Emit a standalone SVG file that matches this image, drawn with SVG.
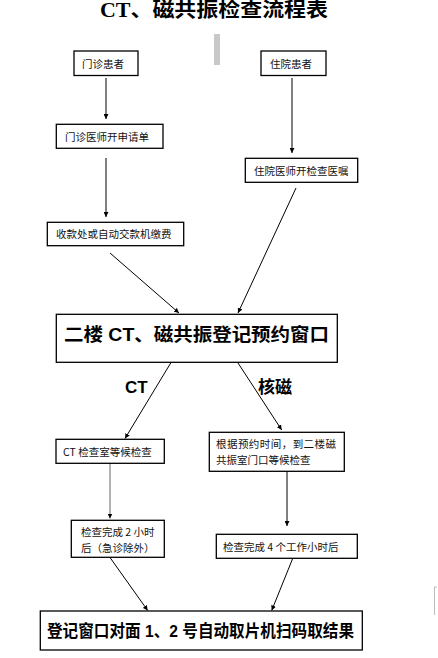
<svg xmlns="http://www.w3.org/2000/svg" width="438" height="658" viewBox="0 0 438 658">
<style>
.box{fill:#fff;stroke:#000;stroke-width:1.3}
.s{font-family:"Noto Sans CJK SC","DejaVu Sans",sans-serif;font-size:10.5px;fill:#111}
.b{font-family:"Liberation Sans","Noto Sans CJK SC",sans-serif;font-weight:bold;fill:#000}
.ln{stroke:#000;stroke-width:1;fill:none;marker-end:url(#ah)}
</style>
<defs>
<marker id="ah" viewBox="0 0 10 10" refX="10" refY="5" markerWidth="5" markerHeight="5" markerUnits="userSpaceOnUse" orient="auto">
<path d="M0,0 L10,5 L0,10 z" fill="#000"/>
</marker>
<marker id="ahg" viewBox="0 0 10 10" refX="10" refY="5" markerWidth="5" markerHeight="5" markerUnits="userSpaceOnUse" orient="auto">
<path d="M0,0 L10,5 L0,10 z" fill="#000"/>
</marker>
</defs>
<rect width="438" height="658" fill="#fff"/>
<text x="100" y="17" font-family="Liberation Serif,'Noto Sans CJK SC',serif" font-weight="bold" font-size="20" textLength="228" lengthAdjust="spacingAndGlyphs">CT、磁共振检查流程表</text>
<rect x="214" y="34" width="6" height="31" fill="#c8c8c8"/>
<path d="M437,587 L434.5,587 L434.5,615" stroke="#bbb" stroke-width="1" fill="none"/>

<g id="connectors">
<line class="ln" x1="106" y1="78" x2="106" y2="119"/>
<line class="ln" x1="106" y1="158" x2="106" y2="217"/>
<line class="ln" x1="292" y1="78" x2="292" y2="153"/>
<line class="ln" x1="110" y1="253" x2="179" y2="313"/>
<line class="ln" x1="296" y1="188" x2="238" y2="313"/>
<line class="ln" x1="171" y1="362.5" x2="125" y2="438.5"/>
<line class="ln" x1="237.7" y1="362.5" x2="281.7" y2="430"/>
<line class="ln" x1="110" y1="463.5" x2="110" y2="518.5" style="stroke:#666"/>
<line class="ln" x1="287" y1="471.5" x2="287" y2="526"/>
<line class="ln" x1="110" y1="557.5" x2="147.7" y2="610.5"/>
<line class="ln" x1="292.7" y1="558.5" x2="271.7" y2="610.5"/>
</g>

<g id="n1"><rect class="box" x="74" y="51" width="64" height="24.5"/><text class="s" x="82" y="68">门诊患者</text></g>
<g id="n2"><rect class="box" x="261" y="51" width="65" height="24.5"/><text class="s" x="270" y="68">住院患者</text></g>
<g id="n3"><rect class="box" x="56.3" y="124.3" width="106.7" height="24"/><text class="s" x="65" y="141">门诊医师开申请单</text></g>
<g id="n4"><rect class="box" x="245.3" y="158.3" width="112.4" height="24"/><text class="s" x="254" y="175">住院医师开检查医嘱</text></g>
<g id="n5"><rect class="box" x="47.3" y="222.3" width="136.4" height="23.4"/><text class="s" x="56" y="238">收款处或自动交款机缴费</text></g>
<g id="n6"><rect class="box" x="56.3" y="314.3" width="281" height="48"/><text class="b" x="64" y="341" font-size="18" textLength="265" lengthAdjust="spacingAndGlyphs">二楼 CT、磁共振登记预约窗口</text></g>
<text class="b" x="125" y="393" font-size="17">CT</text>
<text class="b" x="258" y="393" font-size="17">核磁</text>
<g id="n7"><rect class="box" x="56" y="439.3" width="108.3" height="24"/><text class="s" x="63" y="456">CT 检查室等候检查</text></g>
<g id="n8"><rect class="box" x="209.3" y="432.3" width="135" height="39"/><text class="s" x="216" y="448" textLength="120" lengthAdjust="spacing">根据预约时间，到二楼磁</text><text class="s" x="216" y="464">共振室门口等候检查</text></g>
<g id="n9"><rect class="box" x="71.3" y="520.3" width="93" height="37"/><text class="s" x="81" y="536">检查完成 2 小时</text><text class="s" x="81" y="552">后（急诊除外）</text></g>
<g id="n10"><rect class="box" x="216.3" y="534.3" width="141" height="24"/><text class="s" x="223" y="551">检查完成 4 个工作小时后</text></g>
<g id="n11"><rect class="box" x="40.3" y="611" width="322" height="39"/><text class="b" x="47" y="637" font-size="17" textLength="307" lengthAdjust="spacingAndGlyphs">登记窗口对面 1、2 号自动取片机扫码取结果</text></g>
</svg>
